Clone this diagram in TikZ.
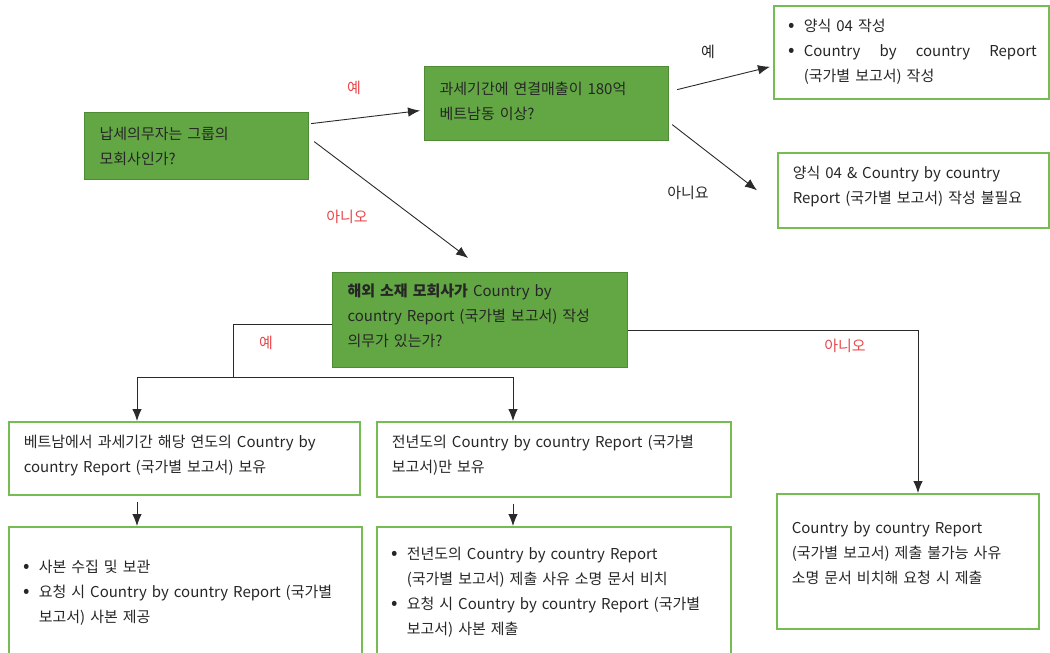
\documentclass[tikz,border=0pt]{standalone}
\usepackage{fontspec}
\setmainfont{Noto Sans CJK KR}
\usetikzlibrary{arrows.meta}

\definecolor{boxgreen}{HTML}{63A744}
\definecolor{qborder}{HTML}{4F8A35}
\definecolor{aborder}{HTML}{76BC55}
\definecolor{textgray}{HTML}{262626}
\definecolor{linegray}{HTML}{2A2A2A}
\definecolor{yesred}{HTML}{E8474B}

\newcommand{\bl}{\makebox[15pt][l]{\fontsize{19}{25}\selectfont\textbullet}}
\newcommand{\lift}[1]{\rule[-#1]{0pt}{#1}}

\begin{document}
\begin{tikzpicture}[x=1pt, y=-1pt,
    every node/.style={font=\fontsize{15}{25}\selectfont, text=textgray},
    qbox/.style={draw=qborder, fill=boxgreen, line width=1.2pt, anchor=north west,
                 align=left, inner xsep=15pt, inner ysep=0pt},
    abox/.style={draw=aborder, line width=1.6pt, anchor=north west,
                 align=left, inner xsep=15pt, inner ysep=0pt},
    conn/.style={draw=linegray, line width=0.9pt},
    arr/.style={conn, -{Latex[length=12pt,width=9.5pt]}},
    redlbl/.style={text=yesred},
    blklbl/.style={text=textgray}]

    \useasboundingbox (0,0) rectangle (1050,653);

    % questions
    \node[qbox, text width=194pt, minimum height=67pt] (A) at (84,112)
        {납세의무자는 그룹의\\모회사인가?};
    \node[qbox, text width=214pt, minimum height=74pt] (B) at (424,66)
        {과세기간에 연결매출이 180억\\베트남동 이상?\lift{6pt}};
    \node[qbox, text width=265pt, minimum height=95pt] (E) at (332,272)
        {\textbf{해외 소재 모회사가} Country by\\country Report (국가별 보고서) 작성\\의무가 있는가?\lift{9pt}};

    % answers
    \node[abox, text width=245pt, minimum height=93pt] (C) at (773,5)
        {\bl 양식 04 작성\\\bl\hbox to 233pt{Country\hfill by\hfill country\hfill Report}\\\hspace*{15pt}(국가별 보고서) 작성\lift{5pt}};
    \node[abox, text width=241pt, minimum height=75pt] (D) at (777,152)
        {양식 04 \& Country by country\\Report (국가별 보고서) 작성 불필요\lift{12pt}};
    \node[abox, text width=321pt, minimum height=73pt] (F) at (8,421)
        {베트남에서 과세기간 해당 연도의 Country by\\country Report (국가별 보고서) 보유\lift{10pt}};
    \node[abox, text width=324pt, minimum height=75pt] (G) at (376,421)
        {전년도의 Country by country Report (국가별\\보고서)만 보유\lift{11pt}};
    \node[abox, text width=323pt, minimum height=139pt] (H) at (8,526)
        {\bl 사본 수집 및 보관\\\bl 요청 시 Country by country Report (국가별\\\hspace*{15pt}보고서) 사본 제공\lift{11pt}};
    \node[abox, text width=324pt, minimum height=139pt] (I) at (376,526)
        {\bl 전년도의 Country by country Report\\\hspace*{15pt}(국가별 보고서) 제출 사유 소명 문서 비치\\\bl 요청 시 Country by country Report (국가별\\\hspace*{15pt}보고서) 사본 제출\lift{11pt}};
    \node[abox, text width=232pt, minimum height=135pt] (J) at (776,493)
        {Country by country Report\\(국가별 보고서) 제출 불가능 사유\\소명 문서 비치해 요청 시 제출\lift{18pt}};

    % junctions
    \coordinate (jl) at (233,377);
    \coordinate (fl) at (137,377);
    \coordinate (gl) at (513,377);
    \coordinate (jr) at (918,330);

    % connectors
    \draw[arr] ([xshift=2pt,yshift=22.5pt]A.east) -- ([xshift=-4pt,yshift=-7pt]B.west);
    \draw[arr] ([xshift=5pt,yshift=4.5pt]A.east) -- ([xshift=-12pt,yshift=14pt]E.north);
    \draw[arr] ([xshift=8pt,yshift=14pt]B.east) -- ([xshift=-3pt,yshift=-14.5pt]C.west);
    \draw[arr] ([xshift=3pt,yshift=-21pt]B.east) -- ([xshift=-20pt]D.west);

    \draw[conn] ([yshift=-4pt]E.west) -| (jl);
    \draw[conn] (fl) -- (gl);
    \draw[arr] (fl) -- (fl |- F.north);
    \draw[arr] (gl) -- (gl |- G.north);
    \draw[arr] ([yshift=-10.5pt]E.east) -| (jr |- J.north);

    \draw[arr] ([yshift=-6pt]F.south -| fl) -- (fl |- H.north);
    \draw[arr] ([yshift=-6pt]G.south -| gl) -- (gl |- I.north);

    % labels
    \node[redlbl] (yes1) at (354,88) {예};
    \node[redlbl] (no1) at (347,217) {아니오};
    \node[blklbl] (yes2) at (708,52) {예};
    \node[blklbl] (no2) at (688,193) {아니요};
    \node[redlbl] (yes3) at (266,343) {예};
    \node[redlbl] (no3) at (845,346) {아니오};
\end{tikzpicture}
\end{document}
